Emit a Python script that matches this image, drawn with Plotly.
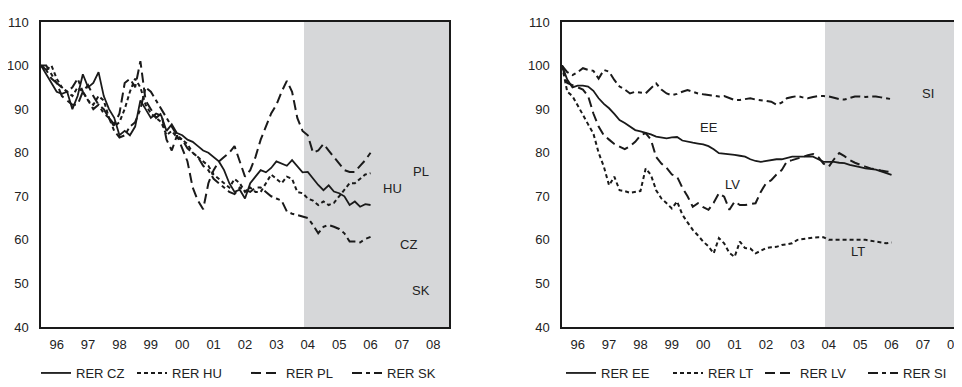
import plotly.graph_objects as go

# bi-monthly observations, Jan 1996 .. Jul 2006
start_year = 1996
step = 1 / 6
n_points = 64

cz = [100, 98, 96, 94, 93.5, 94,
      90, 93, 98, 95, 96, 98.5,
      93, 90, 88, 84, 85, 84,
      86, 92, 90, 88, 89, 88.5,
      85, 86.5, 84.5, 84, 83, 82.5,
      81.5, 80.5, 80, 79, 78, 76,
      73, 71, 71.5, 69.5, 73, 74.5,
      76, 75.5, 76.5, 78, 77.5, 77,
      78.3, 76.8, 75.5, 75.6, 74, 72.6,
      71.4, 72.5, 71.1, 70.7, 70, 68,
      68.8, 67.6, 68.2, 68]
hu = [100, 99, 100, 97, 95, 94,
      93, 95, 94, 92, 91, 93,
      92, 88, 86, 87, 90, 94,
      97, 95, 91, 89, 88, 87,
      84, 85, 83.5, 83, 82, 80,
      79, 78, 77, 75, 74, 73,
      72, 74, 73, 71, 72, 71,
      71, 73, 75, 74, 73, 74.5,
      74, 71, 70.7, 69.5, 69, 68,
      68.8, 68, 68.5, 70, 71.4, 73,
      73, 74, 75, 75.3]
pl = [100, 99, 97, 96, 93, 92,
      91, 91, 94, 95.5, 93, 91,
      90, 88, 86.5, 89, 96, 97,
      95, 101, 92, 90, 88, 89,
      83, 80.5, 84, 81, 78, 72,
      69, 67, 73, 76, 78, 79,
      80, 81.5, 78, 74.5, 76, 79,
      83, 86, 89, 91, 94, 96.5,
      94, 88, 85, 84, 80, 80.5,
      82, 80.5, 79, 77.5, 76, 75.6,
      75.6, 77, 78.3, 80]
sk = [100, 100, 98, 96, 95, 94,
      95, 97, 94, 92, 90, 91,
      89, 88, 85, 83.5, 84, 86,
      87, 90, 95, 94, 92, 90,
      88, 86, 84, 83, 81, 80,
      79, 77, 76, 74, 73, 72,
      71, 70.5, 72, 71.5, 71, 72,
      72, 71, 70, 69.5, 69, 66.5,
      66, 65.7, 65.3, 65, 63.4, 61.5,
      63, 63.4, 63, 62.5, 61.5, 59.6,
      59.6, 59.4, 60.2, 60.7]

ee = [100, 96.8, 95, 95.4, 95.4, 95.2,
      94.2, 92.5, 91.2, 90.2, 88.9, 87.5,
      86.8, 86, 85.2, 84.9, 84.6, 84.2,
      83.7, 83.5, 83.3, 83.5, 83.6, 82.8,
      82.5, 82.3, 82.1, 81.9, 81.5, 80.8,
      79.9, 79.8, 79.6, 79.5, 79.3, 79.1,
      78.5, 78.1, 77.9, 78.1, 78.3, 78.5,
      78.5, 78.8, 79.1, 79.1, 79.1, 79.1,
      79.1, 78.5, 77.9, 77.9, 77.9, 77.7,
      77.6, 77.2, 77, 76.7, 76.4, 76.2,
      76.1, 75.7, 75.3, 74.9]
lt = [100, 94, 93, 91, 88.7, 86.5,
      84.4, 80, 76.8, 72.5, 74.5, 71.4,
      71.2, 70.8, 71, 71.2, 76.4, 74.9,
      71.4, 69.5, 68.4, 67.2, 68.8, 65.8,
      64, 62.3, 61, 59.6, 58.5, 56.9,
      60.4, 59.2, 57, 56.1, 59.6, 58.1,
      58, 56.9, 57.5, 58.1, 58.3, 58.4,
      58.8, 59, 59.2, 60, 60.2, 60.4,
      60.5, 60.6, 60.6, 60, 60, 60,
      60, 60.1, 60.1, 60, 60, 59.8,
      59.6, 59.4, 59.2, 59.4]
lv = [100, 96, 95.5, 95, 94.5, 93,
      89, 86, 84, 83, 82, 81.4,
      80.8, 81.5, 82.5, 84, 84.5, 83,
      79, 77.5, 76.5, 75, 74.5, 72,
      70, 67.6, 68.4, 67.5, 66.9, 68.5,
      70.7, 69.9, 66.9, 68.8, 68, 68,
      68.2, 68.4, 71, 73, 73.7, 75,
      76, 78, 78.3, 78.7, 79.1, 79.4,
      79.7, 79, 77.5, 76.8, 78.5, 79.9,
      79.2, 78.3, 77.7, 77.2, 76.8, 76.4,
      76.1, 75.9, 75.7, 75.5]
si = [100, 98.5, 97.8, 98.5, 99.4, 99,
      98.8, 97, 99, 98.6, 96.7, 95.2,
      94.5, 93.6, 94, 93.8, 93.6, 94.8,
      95.9, 94.5, 93.6, 93.2, 93.5, 94,
      94.4, 94, 93.6, 93.4, 93.2, 93,
      92.9, 93, 92.5, 92.1, 92.1, 92.3,
      92.5, 92.2, 92.1, 91.9, 91.7, 91,
      91.5, 92.5, 92.8, 93, 92.7, 92.5,
      92.8, 93, 93, 92.9, 92.6, 92.3,
      92.2, 92.6, 92.9, 92.9, 92.8, 92.9,
      92.9, 92.7, 92.5, 92.3]

year_labels = ["96", "97", "98", "99", "00", "01", "02", "03", "04", "05", "06", "07", "08"]
year_ticks = [1996.5 + i for i in range(len(year_labels))]
y_ticks = [40, 50, 60, 70, 80, 90, 100, 110]
shade_start = 2004.38
shade_end = 2009.0

left_labels = [("PL", 2008.1, 75.6), ("HU", 2007.2, 71.8), ("CZ", 2007.7, 59.0), ("SK", 2008.1, 48.3)]
right_labels = [("SI", 2007.65, 93.6), ("EE", 2000.68, 85.8), ("LV", 2001.43, 72.6), ("LT", 2005.42, 57.3)]

x = [start_year + i * step for i in range(n_points)]

INK = "#1a1a1a"
TXT = "#222222"
FONT = "Liberation Sans, Arial, sans-serif"
FS = 13
SOLID = dict(color=INK, width=1.8, dash="solid")
SHORT = dict(color=INK, width=2, dash="4px,3px")
LONG = dict(color=INK, width=2, dash="10px,5px")
LONGSHORT = dict(color=INK, width=2, dash="10px,4px,4px,4px")

# page body adds an 8px offset; work in figure pixels
OFF = 8
W, H = 962 - OFF, 387 - OFF
ytop, ybot = 22 - OFF, 327 - OFF
ydom = [(H - ybot) / H, (H - ytop) / H]
px_per_year = 408 / 13.0
lx0, lx1 = 41 - OFF, 449 - OFF
rx0 = 562 - OFF
right_end = 1996 + (W - rx0) / px_per_year
legend_y = (H - (373 - OFF)) / H

left_series = [("RER CZ", cz, SOLID, 41), ("RER HU", hu, SHORT, 137),
               ("RER PL", pl, LONG, 251), ("RER SK", sk, LONGSHORT, 352)]
right_series = [("RER EE", ee, SOLID, 566), ("RER LT", lt, SHORT, 673),
                ("RER LV", lv, LONG, 765), ("RER SI", si, LONGSHORT, 868)]

fig = go.Figure()
legends = {}
k = 0
for series, xa, ya in ((left_series, "x", "y"), (right_series, "x2", "y2")):
    for name, vals, ln, lpos in series:
        k += 1
        lid = "legend" if k == 1 else f"legend{k}"
        fig.add_trace(go.Scatter(x=x, y=vals, mode="lines", name=name, line=ln,
                                 xaxis=xa, yaxis=ya, legend=lid))
        legends[lid] = dict(orientation="h", x=(lpos - OFF - 5) / W, xanchor="left",
                            y=legend_y, yanchor="middle", bgcolor="rgba(0,0,0,0)",
                            font=dict(family=FONT, size=FS, color=TXT), itemwidth=30)

axis_common = dict(showgrid=False, zeroline=False, showline=True, linecolor=INK, linewidth=1.5,
                   ticks="", automargin=False, tickfont=dict(family=FONT, size=FS, color=TXT))

fig.update_layout(
    template="none",
    width=W, height=H,
    margin=dict(l=0, r=0, t=0, b=0, autoexpand=False),
    paper_bgcolor="white", plot_bgcolor="white",
    font=dict(family=FONT, size=FS, color=TXT),
    xaxis=dict(domain=[lx0 / W, lx1 / W], range=[1996, 2009], tickvals=year_ticks, ticktext=year_labels,
               mirror=True, anchor="y", ticklabelstandoff=5, **axis_common),
    yaxis=dict(domain=ydom, range=[40, 110], tickvals=y_ticks, mirror=True, anchor="x",
               ticklabelstandoff=8, **axis_common),
    xaxis2=dict(domain=[rx0 / W, 1.0], range=[1996, right_end], tickvals=year_ticks, ticktext=year_labels,
                mirror=True, anchor="y2", ticklabelstandoff=5, **axis_common),
    yaxis2=dict(domain=ydom, range=[40, 110], tickvals=y_ticks, mirror=False, anchor="x2",
                ticklabelstandoff=8, **axis_common),
    showlegend=True,
    **legends,
)

for xr, yr in (("x", "y"), ("x2", "y2")):
    fig.add_shape(type="rect", xref=xr, yref=yr + " domain", x0=shade_start, x1=shade_end, y0=0, y1=1,
                  fillcolor="#d6d7d9", line=dict(width=0), layer="below")

for txt, tx, ty in left_labels:
    fig.add_annotation(x=tx, y=ty, xref="x", yref="y", text=txt, showarrow=False,
                       font=dict(family=FONT, size=FS, color=TXT))
for txt, tx, ty in right_labels:
    fig.add_annotation(x=tx, y=ty, xref="x2", yref="y2", text=txt, showarrow=False,
                       font=dict(family=FONT, size=FS, color=TXT))

fig.write_html("out.html")
